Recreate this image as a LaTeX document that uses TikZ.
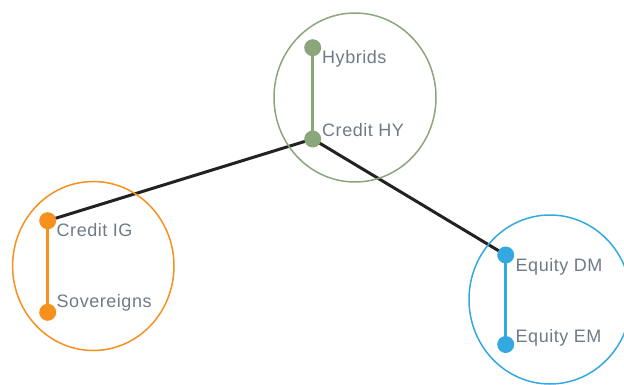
\documentclass[tikz,border=0pt]{standalone}
\usepackage{fontspec}
\setmainfont{Liberation Sans}[LetterSpace=3]
\usetikzlibrary{backgrounds}
\definecolor{cgreen}{HTML}{8CA67C}
\definecolor{corange}{HTML}{F6901E}
\definecolor{cblue}{HTML}{35A8DF}
\definecolor{ctext}{HTML}{6E7B86}
\definecolor{clink}{HTML}{222222}
\begin{document}
\begin{tikzpicture}[x=1pt,y=-1pt,
  dot/.style={circle,fill=#1,inner sep=0pt,minimum size=17pt},
  lbl/.style={text=ctext,font=\fontsize{18}{20}\selectfont,inner sep=0pt,anchor=base west},
  ring/.style={draw=#1,line width=1.5pt},
  stem/.style={draw=#1,line width=3pt},
  link/.style={draw=clink,line width=3pt}]
\useasboundingbox (0,0) rectangle (624,385);
% rings
\draw[ring=cgreen] (355,97.5) ellipse [x radius=81, y radius=84.5];
\draw[ring=corange] (93.3,266) ellipse [x radius=80.7, y radius=84.5];
\draw[ring=cblue] (550,299.5) ellipse [x radius=81, y radius=84.5];
% dots
\node[dot=cgreen] (hyb) at (312.7,47.7) {};
\node[dot=cgreen] (chy) at (312.7,139) {};
\node[dot=corange] (cig) at (47.7,220.7) {};
\node[dot=corange] (sov) at (47.7,312.3) {};
\node[dot=cblue] (edm) at (505.7,255) {};
\node[dot=cblue] (eem) at (505.7,344.5) {};
% labels
\node[lbl] (lhyb) at (322,63.3) {Hybrids};
\node[lbl] (lchy) at (322,136.7) {Credit HY};
\node[lbl] (lcig) at (56.5,236) {Credit IG};
\node[lbl] (lsov) at (56.5,307.7) {Sovereigns};
\node[lbl] (ledm) at (515.5,271) {Equity DM};
\node[lbl] (leem) at (515.5,342.3) {Equity EM};
% connectors
\begin{scope}[on background layer]
\draw[stem=cgreen] (hyb.center) -- (chy.center);
\draw[stem=corange] (cig.center) -- (sov.center);
\draw[stem=cblue] (edm.center) -- (eem.center);
\draw[link] (chy.center) -- (cig.center);
\draw[link] (chy.center) -- (edm.center);
\end{scope}
\end{tikzpicture}
\end{document}
